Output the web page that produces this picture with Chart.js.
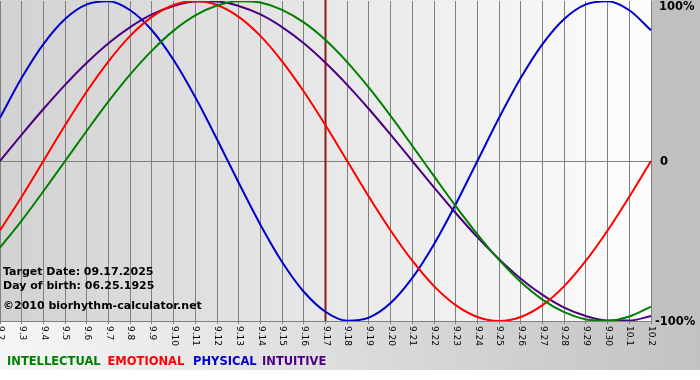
<!DOCTYPE html>
<html>
<head>
<meta charset="utf-8">
<script src="https://cdn.jsdelivr.net/npm/chart.js@4/dist/chart.umd.min.js"></script>
<style>
html,body{margin:0;padding:0;background:#fff;}
#wrap{width:700px;height:380px;position:relative;}
</style>
</head>
<body>
<div id="wrap"><canvas id="c" width="700" height="380"></canvas></div>
<script>
const days = ['9.2','9.3','9.4','9.5','9.6','9.7','9.8','9.9','9.10','9.11','9.12','9.13','9.14','9.15','9.16','9.17','9.18','9.19','9.20','9.21','9.22','9.23','9.24','9.25','9.26','9.27','9.28','9.29','9.30','10.1','10.2'];
const intellectual = [-54.1,-37.2,-18.9,0,18.9,37.2,54.1,69.0,81.5,91.0,97.2,99.9,99.0,94.5,86.6,75.6,61.8,45.8,28.2,9.5,-9.5,-28.2,-45.8,-61.8,-75.6,-86.6,-94.5,-99.0,-99.9,-97.2,-91.0];
const emotional = [-43.4,-22.3,0,22.3,43.4,62.3,78.2,90.1,97.5,100,97.5,90.1,78.2,62.3,43.4,22.3,0,-22.3,-43.4,-62.3,-78.2,-90.1,-97.5,-100,-97.5,-90.1,-78.2,-62.3,-43.4,-22.3,0];
const physical = [27.0,52.0,73.1,88.8,97.9,99.8,94.2,81.7,63.1,39.8,13.6,-13.6,-39.8,-63.1,-81.7,-94.2,-99.8,-97.9,-88.8,-73.1,-52.0,-27.0,0,27.0,52.0,73.1,88.8,97.9,99.8,94.2,81.7];
const intuitive = [0,16.5,32.5,47.6,61.4,73.6,83.7,91.6,96.9,99.7,99.7,96.9,91.6,83.7,73.6,61.4,47.6,32.5,16.5,0,-16.5,-32.5,-47.6,-61.4,-73.6,-83.7,-91.6,-96.9,-99.7,-99.7,-96.9];
const yTicks = [100, 0, -100];
const yTickLabels = ['100%', '0', '-100%'];
const targetDay = '9.17';
const infoLines = ['Target Date: 09.17.2025', 'Day of birth: 06.25.1925', '\u00A92010 biorhythm-calculator.net'];
const legendNames = ['INTELLECTUAL', 'EMOTIONAL', 'PHYSICAL', 'INTUITIVE'];
const colors = ['#008000', '#ff0000', '#0000cc', '#4b0082'];

const seriesList = [intellectual, emotional, physical, intuitive];

const deco = {
  id: 'deco',
  beforeDraw(chart) {
    const ctx = chart.ctx, a = chart.chartArea;
    ctx.save();
    ctx.fillStyle = '#ffffff';
    ctx.fillRect(0, 0, 700, 380);
    ctx.fillStyle = '#c0c0c0';
    ctx.fillRect(a.right, 0, 700 - a.right, a.bottom);
    let g = ctx.createLinearGradient(0, 0, 700, 0);
    g.addColorStop(0, '#f6f6f6');
    g.addColorStop(1, '#c2c2c2');
    ctx.fillStyle = g;
    ctx.fillRect(0, a.bottom, 700, 370 - a.bottom);
    g = ctx.createLinearGradient(a.left, 0, a.right, 0);
    g.addColorStop(0, '#d2d2d2');
    g.addColorStop(1, '#fdfdfd');
    ctx.fillStyle = g;
    ctx.fillRect(a.left, 0, a.right - a.left, a.bottom);
    ctx.restore();
  },
  beforeDatasetsDraw(chart) {
    const ctx = chart.ctx, a = chart.chartArea;
    const x = chart.scales.x.getPixelForValue(days.indexOf(targetDay));
    ctx.save();
    ctx.strokeStyle = '#8b1a1a';
    ctx.lineWidth = 2;
    ctx.beginPath();
    ctx.moveTo(x, 0);
    ctx.lineTo(x, a.bottom);
    ctx.stroke();
    ctx.restore();
  },
  afterDraw(chart) {
    const ctx = chart.ctx, a = chart.chartArea;
    const xs = chart.scales.x, ys = chart.scales.y;
    ctx.save();
    ctx.fillStyle = '#000';
    ctx.font = '9px "DejaVu Sans"';
    ctx.textAlign = 'left';
    ctx.textBaseline = 'middle';
    days.forEach((d, i) => {
      const x = xs.getPixelForValue(i);
      ctx.save();
      ctx.translate(x + 0.5, a.bottom + 5);
      ctx.rotate(Math.PI / 2);
      ctx.fillText(d, 0, 0);
      ctx.restore();
    });
    ctx.font = 'bold 11.5px "DejaVu Sans"';
    const yOff = [6.5, 1, 1.5];
    yTicks.forEach((v, i) => {
      const y = ys.getPixelForValue(v) + yOff[i];
      ctx.fillText(yTickLabels[i], i === 2 ? a.right + 4 : (i === 1 ? a.right + 9 : a.right + 8), y);
    });
    ctx.font = 'bold 11px "DejaVu Sans"';
    const infoY = [272, 286, 306];
    infoLines.forEach((t, i) => ctx.fillText(t, 3, infoY[i]));
    ctx.font = 'bold 11.5px "DejaVu Sans"';
    const lx = [7, 107.5, 193, 262];
    legendNames.forEach((t, i) => {
      ctx.fillStyle = colors[i];
      ctx.fillText(t, lx[i], 362);
    });
    ctx.restore();
  }
};

new Chart(document.getElementById('c'), {
  type: 'line',
  data: {
    labels: days,
    datasets: seriesList.map((s, i) => ({
      label: legendNames[i],
      data: s,
      borderColor: colors[i],
      borderWidth: 2,
      pointRadius: 0,
      fill: false,
      cubicInterpolationMode: 'monotone'
    }))
  },
  options: {
    responsive: false,
    animation: false,
    layout: { padding: { top: 1, left: 0, right: 0, bottom: 0 } },
    plugins: { legend: { display: false }, tooltip: { enabled: false } },
    scales: {
      x: {
        type: 'category',
        offset: false,
        grid: { color: '#808080', lineWidth: 1, tickLength: 3, drawTicks: true },
        border: { color: '#808080' },
        ticks: { display: false },
        afterFit(s) { s.height = 59; }
      },
      y: {
        position: 'right',
        min: -100, max: 100,
        ticks: { display: false, stepSize: 100 },
        grid: { color: c => (c.tick && c.tick.value === 0) ? '#808080' : 'rgba(0,0,0,0)', drawTicks: false },
        border: { display: false },
        afterFit(s) { s.width = 49; }
      }
    }
  },
  plugins: [deco]
});
</script>
</body>
</html>
